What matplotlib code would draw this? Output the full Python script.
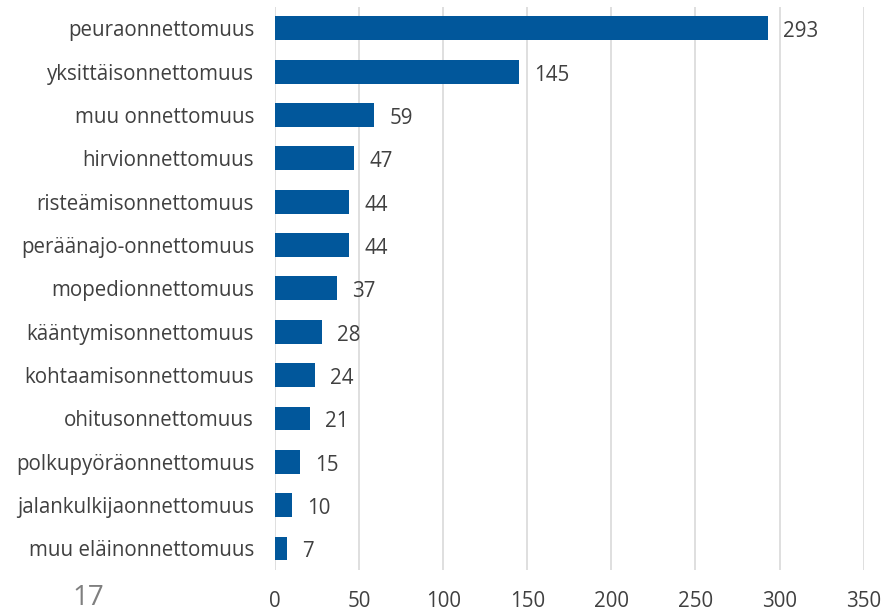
import matplotlib
matplotlib.use("Agg")
import matplotlib.pyplot as plt

categories = ["peuraonnettomuus", "yksittäisonnettomuus", "muu onnettomuus",
              "hirvionnettomuus", "risteämisonnettomuus", "peräänajo-onnettomuus",
              "mopedionnettomuus", "kääntymisonnettomuus", "kohtaamisonnettomuus",
              "ohitusonnettomuus", "polkupyöräonnettomuus", "jalankulkijaonnettomuus",
              "muu eläinonnettomuus"]
values = [293, 145, 59, 47, 44, 44, 37, 28, 24, 21, 15, 10, 7]
xticks = [0, 50, 100, 150, 200, 250, 300, 350]

plt.rcParams['font.family'] = ['Open Sans', 'DejaVu Sans']
txt = '#404040'
fs = 14.8

fig = plt.figure(figsize=(8.84, 6.13), dpi=100)
ax = fig.add_axes([0.311, 0.070, 0.666, 0.919])
y = list(range(len(categories)))
ax.barh(y, values, height=0.55, color='#01579B', zorder=3)
for yi, v in zip(y, values):
    ax.text(v + 9, yi + 0.08, str(v), va='center', ha='left', fontsize=fs, color=txt)
ax.set_ylim(len(categories) - 0.5, -0.5)
ax.set_xlim(0, 350)
ax.set_xticks(xticks)
ax.set_yticks(y)
ax.set_yticklabels(categories)
ax.tick_params(axis='both', length=0, labelsize=fs, labelcolor=txt)
ax.tick_params(axis='y', pad=15)
ax.tick_params(axis='x', pad=15)
ax.grid(axis='x', color='#D9D9D9', linewidth=1.2, zorder=0)
for s in ax.spines.values():
    s.set_visible(False)
fig.text(88 / 884, 1 - 598 / 613, "17", fontsize=20, color='#7F7F7F', ha='center', va='center')
fig.savefig("out.png", dpi=100)
